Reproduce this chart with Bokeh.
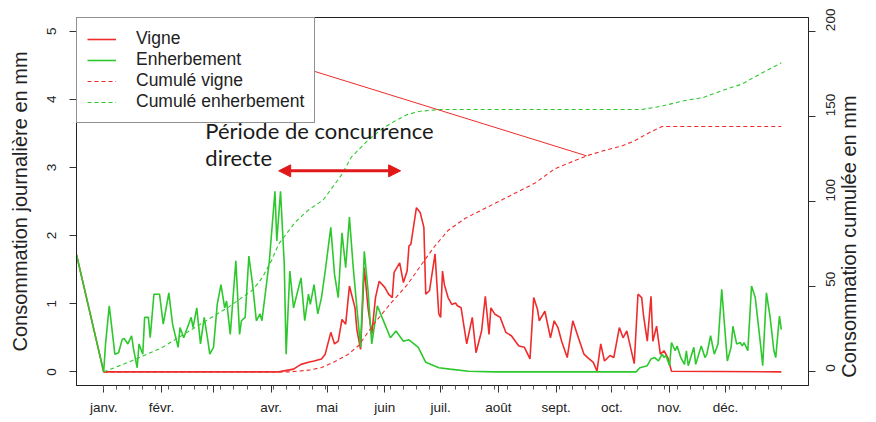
import math
from bokeh.plotting import figure
from bokeh.models import (Range1d, LinearAxis, FixedTicker, Legend, LegendItem,
                          Label, Arrow, NormalHead)
from bokeh.embed import file_html
from bokeh.resources import INLINE

# ---------------- data (day of year, 0 = 1 janv.) ----------------
vigne_days = [-14.6, 0, 94, 102, 106, 110, 113, 117, 119, 122, 124, 126, 128, 130, 132, 135, 136,
              138, 140, 142, 144, 146, 148, 151, 153, 155, 156, 159, 161, 163, 164, 165, 168, 170,
              172, 173, 175, 178, 180, 181, 182, 183, 185, 187, 189, 190, 192, 195, 198, 200, 203,
              205, 207, 208, 210, 213, 216, 219, 223, 226, 229, 231, 233, 234, 237, 240, 242, 244,
              246, 249, 252, 255, 258, 260, 263, 265, 267, 269, 272, 274, 277, 279, 281, 283, 285,
              287, 289, 290, 292, 294, 295, 297, 299, 301, 303, 305, 364]
vigne_vals = [1.72, 0.0, 0.0, 0.04, 0.11, 0.14, 0.16, 0.19, 0.26, 0.58, 0.41, 0.45, 0.77, 0.70, 1.26, 0.94, 0.62,
              0.33, 1.53, 0.94, 0.55, 1.09, 1.33, 1.24, 1.14, 1.09, 1.46, 1.60, 1.31, 1.48, 1.85, 1.87, 2.41, 2.34,
              2.12, 1.14, 1.19, 1.73, 0.85, 0.80, 1.48, 1.28, 1.09, 0.99, 1.01, 0.97, 0.94, 0.41, 0.80, 0.28, 0.60,
              1.11, 0.55, 0.94, 0.85, 0.80, 0.58, 0.53, 0.38, 0.36, 0.19, 1.09, 0.92, 0.75, 0.89, 0.50, 0.75, 0.65,
              0.45, 0.21, 0.75, 0.50, 0.26, 0.21, 0.14, 0.01, 0.41, 0.16, 0.24, 0.21, 0.65, 0.50, 0.60, 0.36, 0.12,
              1.14, 1.09, 0.82, 0.45, 1.11, 0.45, 0.67, 0.26, 0.31, 0.21, 0.01, 0.0]

enherb_days = [-14.6, 0, 1, 3, 5, 6, 8, 10, 11, 13, 15, 16, 18, 19, 21, 22, 24, 25, 27, 30, 32, 35, 37,
               40, 41, 43, 45, 47, 48, 50, 52, 54, 56, 57, 59, 61, 63, 65, 66, 68, 71, 73, 74, 76, 78,
               80, 82, 84, 85, 87, 89, 92, 93, 95, 97, 98, 100, 102, 106, 108, 110, 111, 113, 115, 117,
               119, 122, 124, 126, 128, 130, 132, 134, 136, 138, 140, 142, 144, 147, 151, 154, 157, 161,
               164, 169, 173, 180, 186, 196, 210, 286, 288, 292, 294, 296, 298, 300, 301, 302, 304, 305,
               307, 308, 310, 312, 313, 314, 317, 318, 321, 323, 324, 326, 328, 330, 332, 335, 337, 338,
               340, 342, 343, 344, 346, 348, 350, 353, 354, 356, 358, 360, 361, 363, 364]
enherb_vals = [1.72, 0.0, 0.41, 0.97, 0.50, 0.26, 0.28, 0.48, 0.49, 0.41, 0.53, 0.34, 0.06, 0.41, 0.26, 0.80, 0.80,
               0.50, 1.14, 1.14, 0.70, 1.16, 0.70, 0.36, 0.65, 0.50, 0.65, 0.80, 0.65, 0.94, 0.41, 0.80, 0.45,
               0.26, 0.36, 0.99, 1.28, 0.94, 1.04, 0.55, 1.63, 0.55, 0.75, 0.80, 1.70, 1.28, 0.75, 0.85, 0.75,
               1.19, 1.63, 2.65, 1.92, 2.65, 1.58, 0.26, 1.48, 0.94, 1.38, 0.75, 1.14, 0.99, 1.28, 0.85, 1.09,
               1.48, 2.12, 1.43, 1.09, 2.04, 1.53, 2.27, 1.55, 0.94, 0.36, 1.77, 1.19, 0.41, 0.97, 0.70, 0.50,
               0.60, 0.45, 0.47, 0.36, 0.14, 0.06, 0.04, 0.01, 0.0, 0.0, 0.06, 0.09, 0.19, 0.21, 0.16, 0.26,
               0.21, 0.24, 0.09, 0.43, 0.31, 0.38, 0.21, 0.11, 0.31, 0.09, 0.36, 0.11, 0.38, 0.21, 0.26, 0.53,
               0.26, 0.41, 1.21, 0.16, 0.36, 0.67, 0.41, 0.43, 0.38, 0.43, 0.31, 1.26, 1.09, 0.36, 0.09, 1.16,
               0.80, 0.31, 0.21, 0.82, 0.62]

cum_vigne_days = [0, 100, 110, 117, 124, 131, 137, 145, 154, 163, 172, 178, 185, 194, 203, 214, 223,
                  232, 242, 253, 260, 269, 278, 285, 294, 300, 364]
cum_vigne_vals = [0, 0, 1, 2.5, 6, 10, 15.5, 28, 40, 51, 65, 74, 83, 90, 95, 101, 106,
                  111, 119, 124, 127, 130, 132.5, 135.5, 141, 144, 144]

cum_enherb_days = [0, 13, 31, 49, 67, 80, 85, 90, 94, 103, 110, 118, 124, 128, 133, 142, 150, 156,
                   163, 170, 181, 278, 289, 300, 311, 322, 332, 343, 352, 364]
cum_enherb_vals = [0, 5.5, 14, 26, 38, 48, 55, 65, 75, 88, 95, 101, 110, 116, 126, 136, 143, 147,
                   151, 153, 154, 154, 154, 156, 159, 161, 165, 169, 174.5, 181.4]

# stray straight red segment visible in the picture
stray_days = [79, 259.4]
stray_vals = [4.70, 3.17]

# annotation arrow (period of direct competition)
arrow_days = [94, 159.5]
arrow_level = 2.95

month_days = [0, 31, 59, 90, 120, 151, 181, 212, 243, 273, 304, 334]
month_labels = ["janv.", "févr.", "", "avr.", "mai", "juin", "juil.", "août", "sept.", "oct.", "nov.", "déc."]
week_days = list(range(0, 365, 7))

left_ticks = [0, 1, 2, 3, 4, 5]
right_ticks = [0, 50, 100, 150, 200]
right_title = "Consommation cumulée en mm"
right_title_at = 108   # position (cumulative scale) of the centre of the right axis title

RED = "#ee2c2c"
GREEN = "#2ec82e"
FONT = "Liberation Sans"

p = figure(width=876, height=422, output_backend="svg", toolbar_location=None,
           x_range=Range1d(-14.6, 378.6), y_range=Range1d(-0.2, 5.2),
           min_border_left=76, min_border_right=68, min_border_top=17, min_border_bottom=37,
           background_fill_color="white", border_fill_color="white")
p.extra_y_ranges = {"cum": Range1d(-8, 208)}
p.grid.visible = False
p.outline_line_color = "#222222"
p.outline_line_width = 1

r_stray = p.line(stray_days, stray_vals, line_color=RED, line_width=1)
r_v = p.line(vigne_days, vigne_vals, line_color=RED, line_width=1.6)
r_g = p.line(enherb_days, enherb_vals, line_color=GREEN, line_width=1.6)
r_cv = p.line(cum_vigne_days, cum_vigne_vals, line_color=RED, line_width=1.1,
              line_dash="4 3", y_range_name="cum")
r_cg = p.line(cum_enherb_days, cum_enherb_vals, line_color=GREEN, line_width=1.1,
              line_dash="4 3", y_range_name="cum")

# x axis
xa = p.xaxis[0]
xa.ticker = FixedTicker(ticks=month_days, minor_ticks=week_days)
xa.major_label_overrides = {d: l for d, l in zip(month_days, month_labels)}

# left axis
ya = p.yaxis[0]
ya.ticker = FixedTicker(ticks=left_ticks)
ya.axis_label = "Consommation journalière en mm"
ya.major_label_orientation = "vertical"

# right axis
ra = LinearAxis(y_range_name="cum", ticker=FixedTicker(ticks=right_ticks),
                major_label_orientation=math.pi / 2)
p.add_layout(ra, "right")

for ax in (xa, ya, ra):
    ax.axis_line_color = "#222222"
    ax.major_tick_line_color = "#333333"
    ax.minor_tick_line_color = "#555555"
    ax.major_tick_in = 0
    ax.major_tick_out = 7
    ax.minor_tick_in = 0
    ax.minor_tick_out = 4
    ax.major_label_text_font = FONT
    ax.major_label_text_font_size = "13.5px"
    ax.major_label_text_color = "#222222"
    ax.axis_label_text_font = FONT
    ax.axis_label_text_font_size = "20px"
    ax.axis_label_text_font_style = "normal"
    ax.axis_label_text_color = "#222222"
xa.major_label_standoff = 7
ya.major_label_standoff = 13
ra.major_label_standoff = 15
ra.major_label_text_baseline = "top"
ya.axis_label_standoff = 14

# right axis title, drawn as the single label of an outer axis so it reads bottom-to-top
rt = LinearAxis(y_range_name="cum", ticker=FixedTicker(ticks=[right_title_at]),
                major_label_overrides={right_title_at: right_title},
                major_label_orientation=math.pi / 2, major_label_standoff=7,
                axis_line_color=None, major_tick_line_color=None, minor_tick_line_color=None,
                major_tick_in=0, major_tick_out=0,
                major_label_text_font=FONT, major_label_text_font_size="20px",
                major_label_text_color="#222222", major_label_text_baseline="top")
p.add_layout(rt, "right")

legend = Legend(items=[LegendItem(label="Vigne", renderers=[r_v]),
                       LegendItem(label="Enherbement", renderers=[r_g]),
                       LegendItem(label="Cumulé vigne", renderers=[r_cv]),
                       LegendItem(label="Cumulé enherbement", renderers=[r_cg])],
                location="top_left", margin=0, padding=10, spacing=0,
                label_height=20, glyph_height=20, glyph_width=29, label_standoff=20,
                label_text_font=FONT, label_text_font_size="17.5px", label_text_color="#222222",
                border_line_color="#222222", border_line_width=1,
                background_fill_color="white", background_fill_alpha=1)
p.add_layout(legend)

p.add_layout(Label(x=54.6, y=3.54, text="Période de concurrence", text_font="Lato",
                   text_font_size="22px", text_color="#1a1a1a", text_baseline="alphabetic"))
p.add_layout(Label(x=54.6, y=3.15, text="directe", text_font="Lato",
                   text_font_size="22px", text_color="#1a1a1a", text_baseline="alphabetic"))

p.add_layout(Arrow(x_start=arrow_days[0], y_start=arrow_level, x_end=arrow_days[1], y_end=arrow_level,
                   line_color="#e01818", line_width=3,
                   start=NormalHead(size=12, fill_color="#e01818", line_color="#e01818"),
                   end=NormalHead(size=12, fill_color="#e01818", line_color="#e01818")))

open("out.html", "w").write(file_html(p, INLINE))
